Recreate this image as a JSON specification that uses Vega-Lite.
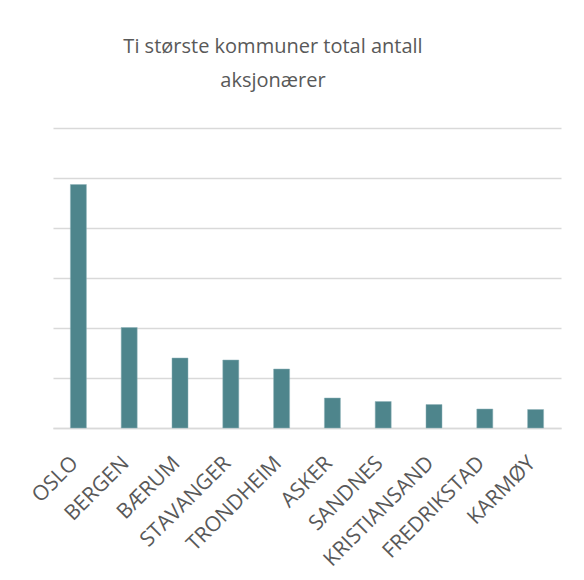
{
  "$schema": "https://vega.github.io/schema/vega-lite/v6.json",
  "autosize": "none",
  "width": 508,
  "height": 300,
  "padding": {"left": 53, "top": 128, "right": 23, "bottom": 152},
  "background": "white",
  "title": {
    "text": ["Ti største kommuner total antall", "aksjonærer"],
    "font": "Open Sans",
    "fontSize": 20,
    "fontWeight": "normal",
    "color": "#595959",
    "lineHeight": 34,
    "anchor": "middle",
    "dx": -34,
    "offset": 37
  },
  "data": {
    "values": [
      {"kommune": "OSLO", "antall": 4.87},
      {"kommune": "BERGEN", "antall": 2.01},
      {"kommune": "BÆRUM", "antall": 1.40},
      {"kommune": "STAVANGER", "antall": 1.36},
      {"kommune": "TRONDHEIM", "antall": 1.18},
      {"kommune": "ASKER", "antall": 0.60},
      {"kommune": "SANDNES", "antall": 0.53},
      {"kommune": "KRISTIANSAND", "antall": 0.47},
      {"kommune": "FREDRIKSTAD", "antall": 0.38},
      {"kommune": "KARMØY", "antall": 0.37}
    ]
  },
  "mark": {"type": "bar", "color": "#4E858C", "stroke": "#8fb3b8", "strokeWidth": 0.5},
  "encoding": {
    "x": {
      "field": "kommune",
      "type": "nominal",
      "sort": null,
      "scale": {"paddingInner": 0.685, "paddingOuter": 0.3425},
      "axis": {
        "title": null,
        "labelAngle": -45,
        "labelFont": "Open Sans",
        "labelFontSize": 21,
        "labelColor": "#595959",
        "labelPadding": 24,
        "labelOffset": -11,
        "labelLimit": 300,
        "ticks": false,
        "domainColor": "#d9d9d9",
        "domainWidth": 1.5
      }
    },
    "y": {
      "field": "antall",
      "type": "quantitative",
      "scale": {"domain": [0, 6], "nice": false},
      "axis": {
        "title": null,
        "values": [0, 1, 2, 3, 4, 5, 6],
        "labels": false,
        "ticks": false,
        "domain": false,
        "grid": true,
        "gridColor": "#d9d9d9",
        "gridWidth": 1.5
      }
    }
  },
  "config": {"view": {"stroke": null}}
}
